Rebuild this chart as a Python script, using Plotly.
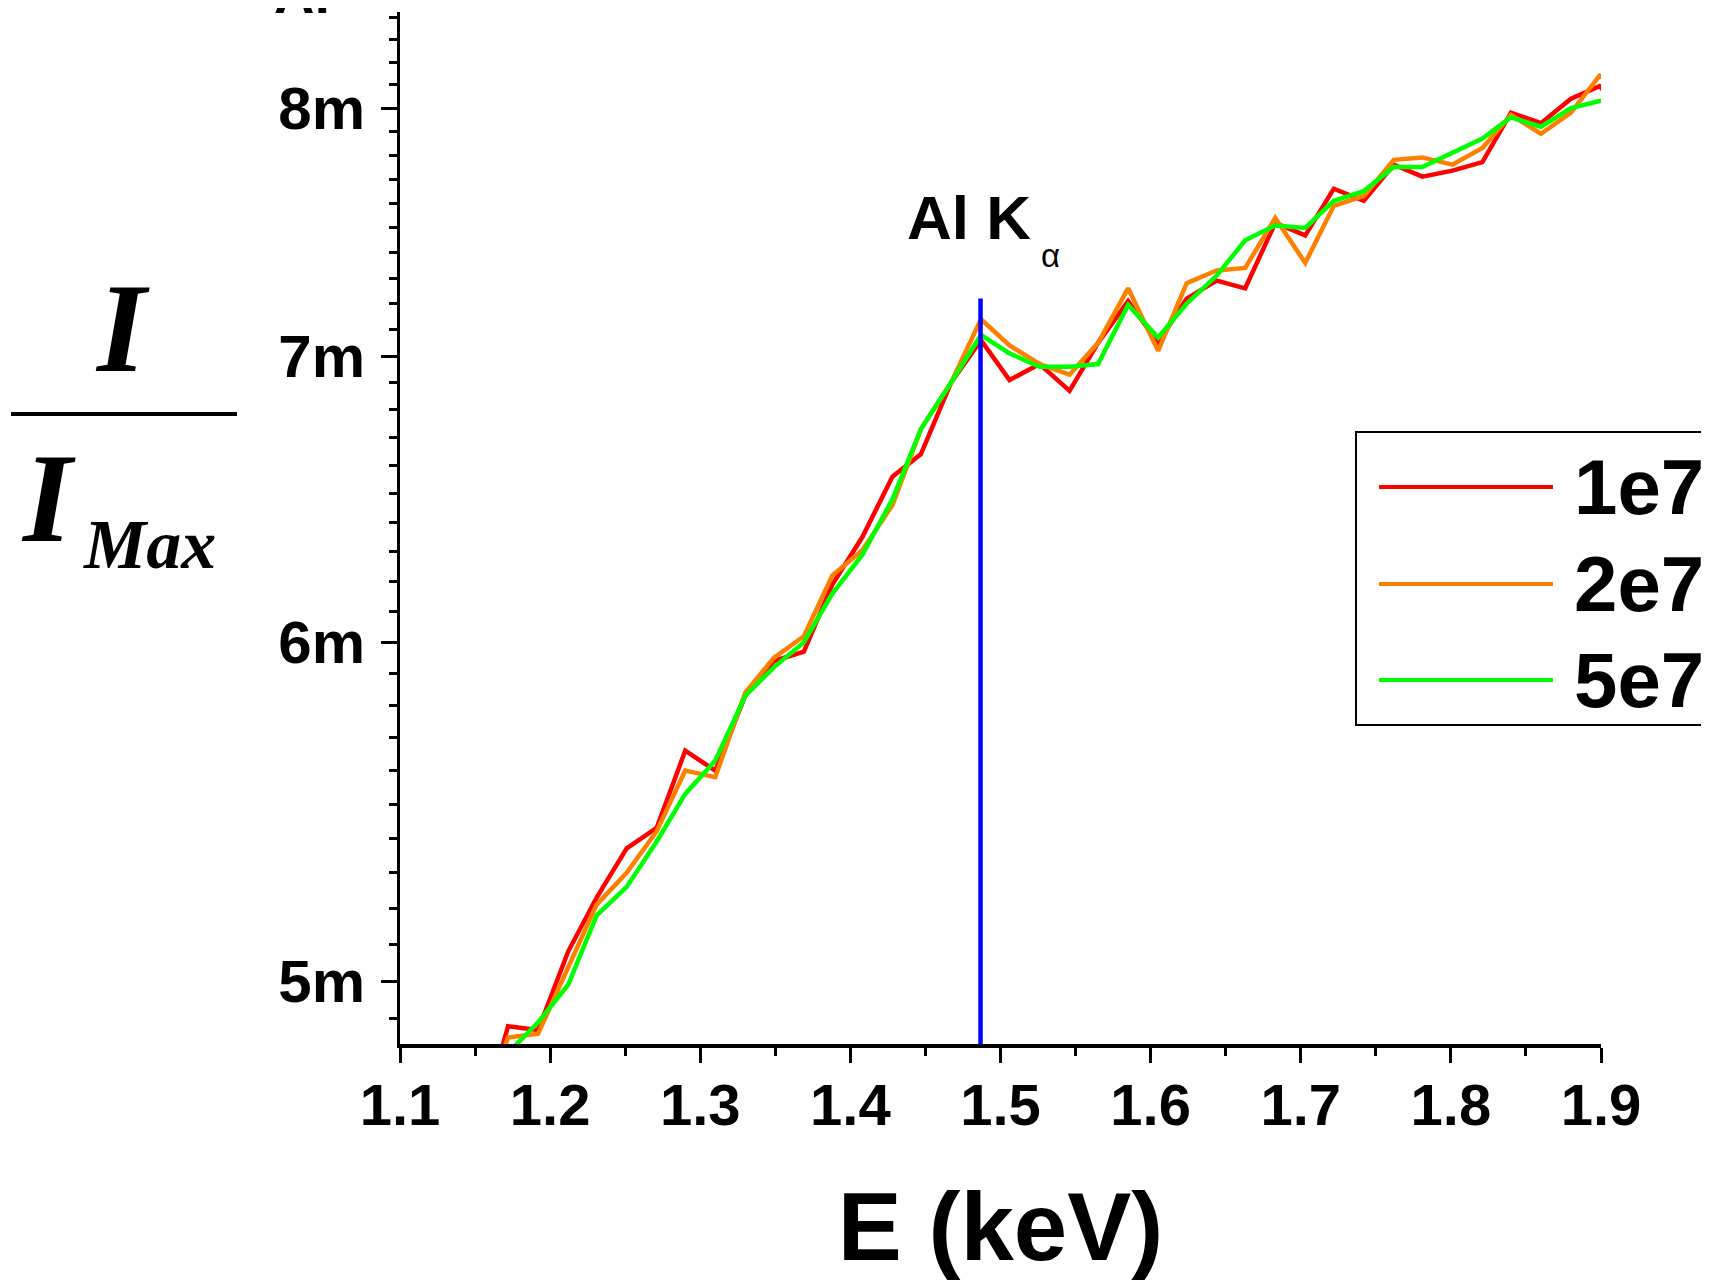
import plotly.graph_objects as go

# ---------------- data ----------------
energy_kev = [1.153, 1.172, 1.192, 1.212, 1.231, 1.251, 1.271, 1.290, 1.310, 1.330,
              1.349, 1.369, 1.388, 1.408, 1.428, 1.447, 1.467, 1.487, 1.506, 1.526,
              1.546, 1.565, 1.585, 1.605, 1.624, 1.644, 1.663, 1.683, 1.703, 1.722,
              1.742, 1.762, 1.781, 1.801, 1.821, 1.840, 1.860, 1.880, 1.899, 1.919]

ratio_1e7 = [0.00462, 0.00488, 0.00487, 0.00508, 0.00523, 0.00537, 0.00543, 0.00566, 0.00560, 0.00583,
             0.00594, 0.00597, 0.00619, 0.00635, 0.00656, 0.00664, 0.00690, 0.00706, 0.00691, 0.00697,
             0.00687, 0.00705, 0.00721, 0.00705, 0.00722, 0.00729, 0.00726, 0.00752, 0.00747, 0.00766,
             0.00761, 0.00776, 0.00771, 0.007735, 0.00777, 0.00798, 0.007935, 0.00804, 0.008095, 0.00796]

ratio_2e7 = [0.00466, 0.00485, 0.00486, 0.00504, 0.00521, 0.00530, 0.00542, 0.00560, 0.00558, 0.00584,
             0.00595, 0.00602, 0.00622, 0.006305, 0.00646, 0.00673, 0.00690, 0.00714, 0.00704, 0.00697,
             0.00693, 0.00705, 0.00726, 0.00702, 0.00728, 0.00733, 0.00734, 0.00754, 0.00736, 0.00759,
             0.00763, 0.00778, 0.00779, 0.00776, 0.00783, 0.00797, 0.00789, 0.00798, 0.00814, 0.00806]

ratio_5e7 = [0.00470, 0.00481, 0.00489, 0.00499, 0.00518, 0.00526, 0.00539, 0.00553, 0.00563, 0.00583,
             0.00592, 0.00600, 0.00616, 0.00629, 0.00648, 0.00673, 0.00690, 0.00708, 0.00701, 0.00696,
             0.00696, 0.00697, 0.007195, 0.00707, 0.00720, 0.00731, 0.00745, 0.00751, 0.00750, 0.00761,
             0.00765, 0.00775, 0.00775, 0.00781, 0.00787, 0.00796, 0.00792, 0.00800, 0.00803, 0.00804]

series_names = ["1e7", "2e7", "5e7"]
series_colors = ["#FF0000", "#FF8000", "#00FF00"]

kalpha_x = [1.4867, 1.4867]
kalpha_y = [0.0047, 0.00722]

x_tickvals = [1.1, 1.2, 1.3, 1.4, 1.5, 1.6, 1.7, 1.8, 1.9]
y_tickvals = [0.005, 0.006, 0.007, 0.008]
y_ticktext = ["5m", "6m", "7m", "8m"]

# ---------------- geometry helpers (page pixels -> paper) ----------------
W, H = 1709, 1284
OFF = 8  # browser body margin
PL, PR, PT, PB = 400, 1601, 12, 1044  # plot area in page pixels
L, T = PL - OFF, PT - OFF
R = W - (PR - OFF)
B = H - (PB - OFF)
PW, PH = PR - PL, PB - PT


def px(xp):
    return (xp - PL) / PW


def py(yp):
    return (PB - yp) / PH


SANS = "Liberation Sans, Arial, sans-serif"
SERIF = "Liberation Serif, Times New Roman, serif"

fig = go.Figure()
for name, col, vals in zip(series_names, series_colors, [ratio_1e7, ratio_2e7, ratio_5e7]):
    fig.add_trace(go.Scatter(x=energy_kev, y=vals, mode="lines", name=name,
                             line=dict(color=col, width=4.5), showlegend=False))

fig.add_trace(go.Scatter(x=kalpha_x, y=kalpha_y, mode="lines", name="Al Kα",
                         line=dict(color="#0000FF", width=4.5), showlegend=False))

minor_vals = [k / 10000 for k in range(48, 85) if k % 10 != 0]

fig.update_layout(
    width=W, height=H,
    margin=dict(l=L, r=R, t=T, b=B, autoexpand=False),
    paper_bgcolor="white", plot_bgcolor="white",
    font=dict(family=SANS, color="black"),
    xaxis=dict(
        range=[1.1, 1.9], showgrid=False, zeroline=False,
        showline=True, linecolor="black", linewidth=4,
        tickmode="array", tickvals=x_tickvals,
        ticktext=[f"{v:.1f}" for v in x_tickvals],
        ticks="outside", ticklen=15, tickwidth=3, tickcolor="black",
        tickfont=dict(family=SANS, size=58, weight="bold"),
        ticklabelstandoff=-8,
        minor=dict(ticks="outside", ticklen=8, tickwidth=3, tickcolor="black",
                   tickmode="array", tickvals=[1.15, 1.25, 1.35, 1.45, 1.55, 1.65, 1.75, 1.85]),
        title=dict(text="E (keV)", font=dict(family=SANS, size=96, weight="bold"), standoff=58),
    ),
    yaxis=dict(
        type="log", range=[-2.31575, -2.07446], showgrid=False, zeroline=False,
        showline=True, linecolor="black", linewidth=3,
        tickmode="array", tickvals=y_tickvals, ticktext=y_ticktext,
        ticks="outside", ticklen=16, tickwidth=3, tickcolor="black",
        tickfont=dict(family=SANS, size=60, weight="bold"),
        ticklabelstandoff=4,
        minor=dict(ticks="outside", ticklen=8, tickwidth=3, tickcolor="black",
                   tickmode="array", tickvals=minor_vals),
    ),
)

anns = []
# chart title (cut off at the top edge, as in the original)
anns.append(dict(text="<b>Al</b>", x=px(302), y=py(27), xref="paper", yref="paper",
                 xanchor="center", yanchor="bottom", showarrow=False,
                 font=dict(family=SANS, size=56, color="black")))
# Al K alpha label
anns.append(dict(text="<b>Al K</b>", x=px(905), y=py(217), xref="paper", yref="paper",
                 xanchor="left", yanchor="middle", showarrow=False,
                 font=dict(family=SANS, size=62, color="black")))
anns.append(dict(text="α", x=px(1050), y=py(256), xref="paper", yref="paper",
                 xanchor="center", yanchor="middle", showarrow=False,
                 font=dict(family=SANS, size=33, color="black")))
# y-axis title as a fraction I / I_Max
anns.append(dict(text="<b><i>I</i></b>", x=px(122), y=py(328), xref="paper", yref="paper",
                 xanchor="center", yanchor="middle", showarrow=False,
                 font=dict(family=SERIF, size=126, color="black")))
anns.append(dict(text="<b><i>I</i></b>", x=px(48), y=py(499), xref="paper", yref="paper",
                 xanchor="center", yanchor="middle", showarrow=False,
                 font=dict(family=SERIF, size=126, color="black")))
anns.append(dict(text="<b><i>Max</i></b>", x=px(149), y=py(544), xref="paper", yref="paper",
                 xanchor="center", yanchor="middle", showarrow=False,
                 font=dict(family=SERIF, size=70, color="black")))

shapes = [dict(type="line", xref="paper", yref="paper", x0=px(11), x1=px(237),
               y0=py(414), y1=py(414), line=dict(color="black", width=4))]

# legend (drawn manually to reproduce the long sample lines)
shapes.append(dict(type="rect", xref="paper", yref="paper", x0=px(1356), x1=px(1740),
                   y0=py(725), y1=py(432), line=dict(color="black", width=2),
                   fillcolor="rgba(0,0,0,0)"))
leg_y = [487, 584, 680]
for name, col, yy in zip(series_names, series_colors, leg_y):
    shapes.append(dict(type="line", xref="paper", yref="paper", x0=px(1379), x1=px(1553),
                       y0=py(yy), y1=py(yy), line=dict(color=col, width=4)))
    anns.append(dict(text=f"<b>{name}</b>", x=px(1572), y=py(yy), xref="paper", yref="paper",
                     xanchor="left", yanchor="middle", showarrow=False,
                     font=dict(family=SANS, size=78, color="black")))

fig.update_layout(annotations=anns, shapes=shapes)

fig.write_html("out.html")
